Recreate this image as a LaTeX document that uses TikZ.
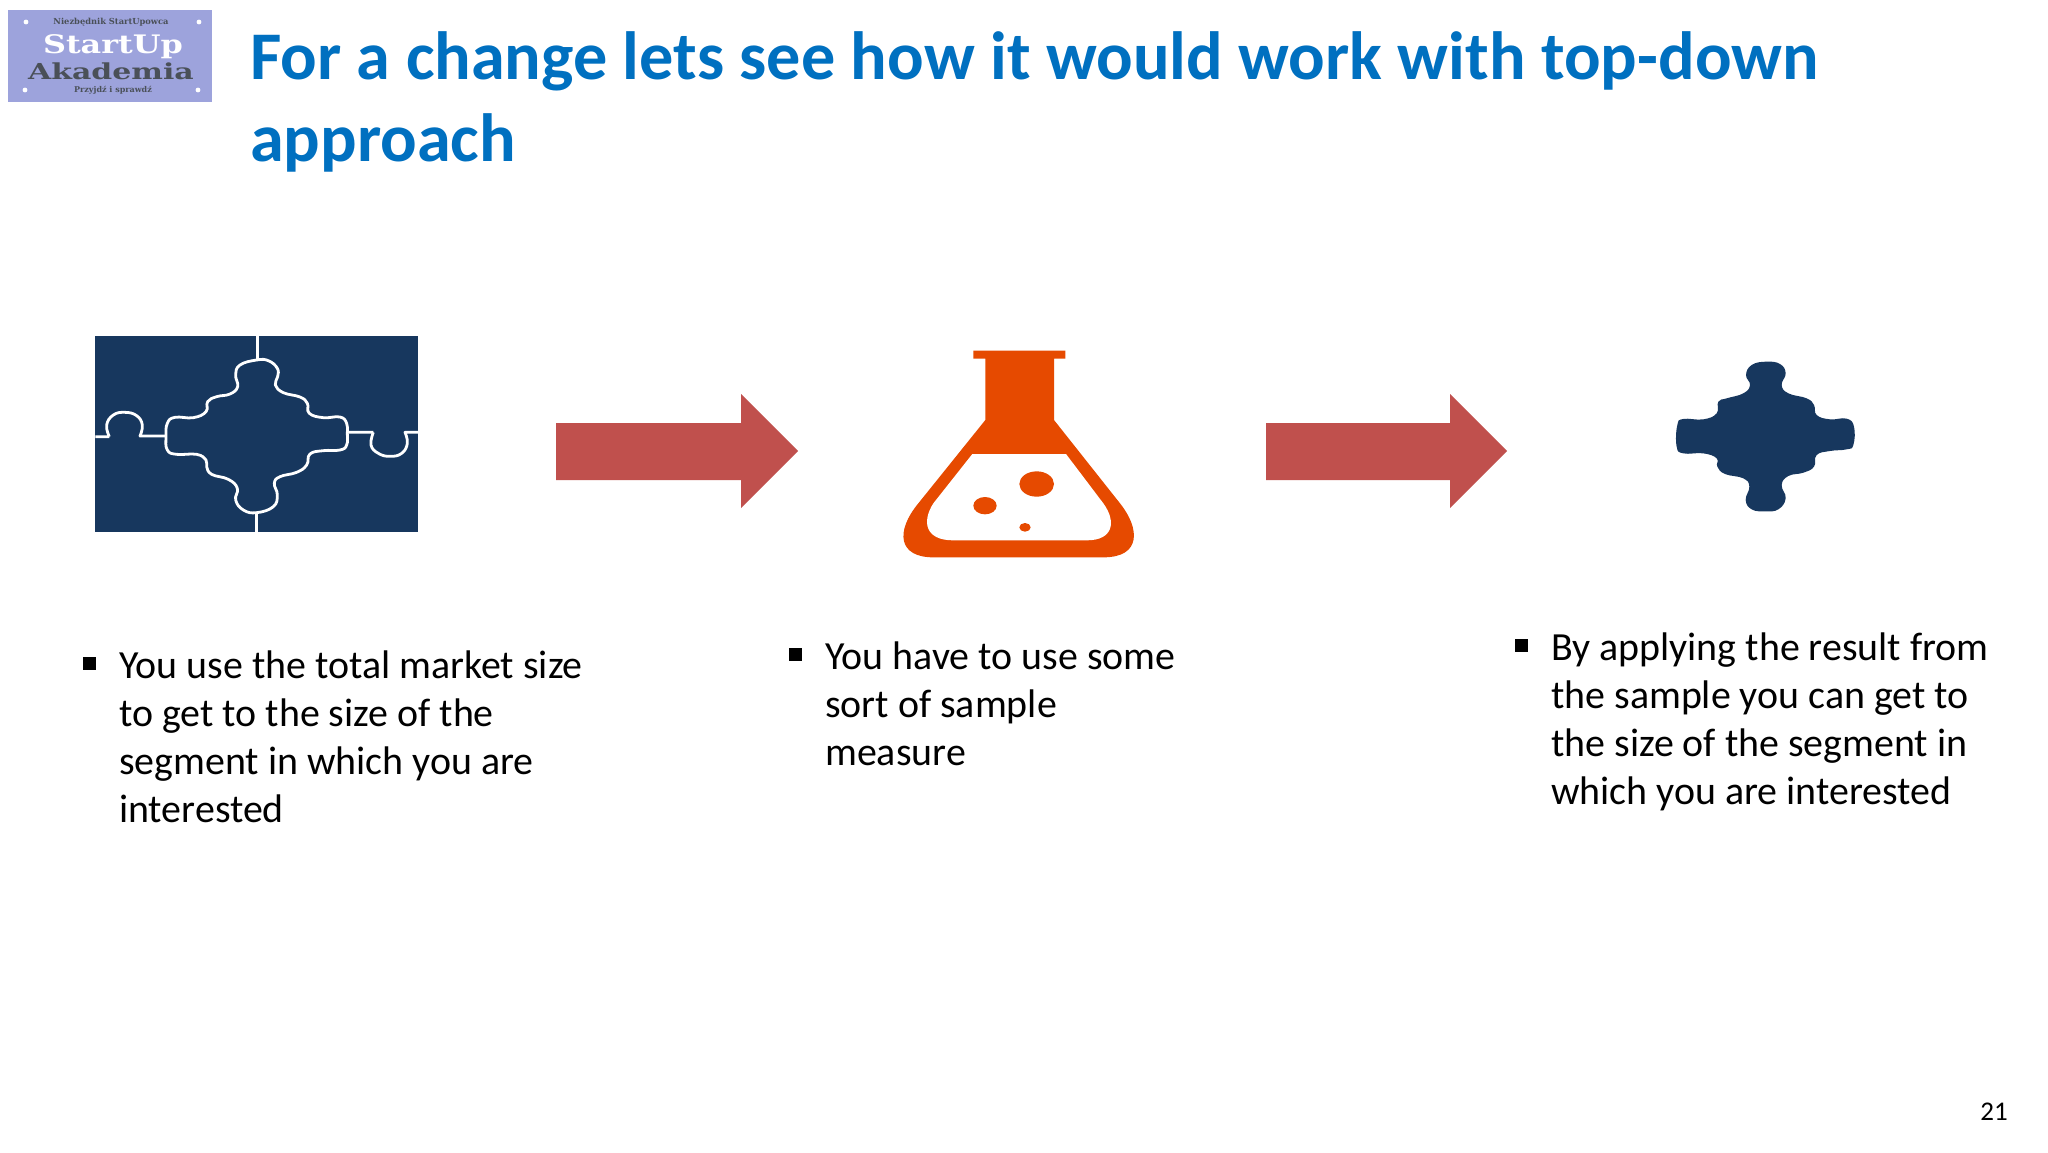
\documentclass[tikz,border=0pt]{standalone}
\usepackage{fontspec}
\setmainfont{Carlito}
\newfontfamily\logofont{DejaVu Serif}
\definecolor{titleblue}{HTML}{0070C0}
\definecolor{navy}{HTML}{17375E}
\definecolor{flaskorange}{HTML}{E64A00}
\definecolor{arrowred}{HTML}{C0504D}
\definecolor{logoblue}{HTML}{9DA3DC}
\definecolor{logodark}{HTML}{4A5058}
\tikzset{
  titletext/.style={anchor=north west,inner sep=0pt,align=left,text=titleblue,font=\fontsize{68.2}{82}\selectfont\bfseries},
  bodytext/.style={anchor=north west,inner sep=0pt,align=left,text=black,font=\fontsize{39.9}{48}\selectfont},
  bulletmark/.style={fill=black,draw=none,minimum size=13pt,inner sep=0pt},
  flowarrow/.style={fill=arrowred,draw=none},
  seam/.style={draw=white,line width=2.8pt,line join=round},
  pixelzoom/.style={x=0.33333pt,y=-0.33333pt},
  logoline/.style={inner sep=0pt,transform shape}
}
\begin{document}
\begin{tikzpicture}[x=1pt,y=-1pt]
\useasboundingbox[fill=white] (0,0) rectangle (2048,1152);
% logo
\fill[logoblue] (8,10) rectangle (212,102);
\node[inner sep=0pt,text=logodark,font=\logofont\fontsize{8.3}{9}\selectfont\bfseries] (logotop) at (111,22) {Niezbędnik StartUpowca};
\begin{scope}[shift={(113,47)},xscale=1.25]
\node[logoline,text=white,font=\logofont\fontsize{25.5}{26}\selectfont\bfseries] (logoa) at (0,0) {StartUp};
\end{scope}
\begin{scope}[shift={(111,71)},xscale=1.36]
\node[logoline,text=logodark,font=\logofont\fontsize{22}{23}\selectfont\bfseries] (logob) at (0,0) {Akademia};
\end{scope}
\node[inner sep=0pt,text=logodark,font=\logofont\fontsize{8}{9}\selectfont\bfseries] (logoc) at (113,90) {Przyjdź i sprawdź};
\foreach \p in {(26,22),(199,22),(25,90),(198,90)} \fill[white] \p circle (2.4);
% title
\node[titletext] (title) at (250,31) {For a change lets see how it would work with top-down\\approach};
% puzzle
\fill[navy] (95,336) rectangle (418,532);
\begin{scope}[shift={(80,320)},pixelzoom]
\draw[seam] plot[smooth cycle,tension=0.75] coordinates {(530,120)(565,122)(592,145)(593,170)(586,195)(610,218)(660,231)(682,250)(688,280)(730,293)(780,291)(800,310)(802,340)(800,375)(780,390)(730,392)(690,402)(680,435)(650,457)(600,470)(583,490)(592,525)(580,560)(530,578)(490,570)(467,540)(472,505)(445,478)(395,463)(380,440)(378,420)(350,403)(290,403)(262,390)(258,350)(262,310)(285,292)(340,293)(378,275)(383,245)(410,230)(450,222)(473,200)(467,165)(480,135)};
\draw[seam] (46,350) -- (88,350) plot[smooth,tension=0.75] coordinates {(88,350)(80,315)(100,285)(135,277)(170,287)(187,315)(180,348)} -- (258,348);
\draw[seam] (802,337) -- (880,337) plot[smooth,tension=0.75] coordinates {(880,337)(873,375)(895,400)(930,409)(965,400)(982,370)(975,337)} -- (1014,337);
\draw[seam] (532,48) -- (532,118);
\draw[seam] (530,578) -- (530,636);
\end{scope}
% arrows
\fill[flowarrow] (556,423) -- (741,423) -- (741,394) -- (798,451) -- (741,508) -- (741,480) -- (556,480) -- cycle;
\fill[flowarrow] (1266,423) -- (1450,423) -- (1450,394) -- (1507,451) -- (1450,508) -- (1450,480) -- (1266,480) -- cycle;
% flask
\begin{scope}[shift={(890,340)},pixelzoom]
\fill[flaskorange] (250,32) -- (526,32) -- (526,56) -- (492,56) -- (492,240) -- (690,490) .. controls (750,565) and (755,652) .. (640,652) -- (130,652) .. controls (25,652) and (15,575) .. (85,490) -- (286,240) -- (286,56) -- (250,56) -- cycle;
\fill[white] (247,342) -- (528,342) -- (640,490) .. controls (680,545) and (670,601) .. (590,601) -- (190,601) .. controls (105,601) and (95,545) .. (130,490) -- cycle;
\fill[flaskorange] (440,432) ellipse [x radius=52,y radius=38];
\fill[flaskorange] (285,497) ellipse [x radius=35,y radius=26];
\fill[flaskorange] (405,562) ellipse [x radius=17,y radius=13];
\end{scope}
% piece
\begin{scope}[shift={(1660,350)},pixelzoom]
\fill[navy] plot[smooth cycle,tension=0.75] coordinates {(318,35)(360,42)(377,70)(365,105)(385,130)(440,145)(462,165)(470,195)(510,208)(560,206)(582,230)(580,285)(560,298)(510,303)(470,315)(462,350)(430,368)(385,378)(365,405)(377,445)(355,478)(315,484)(275,478)(257,450)(268,410)(250,385)(195,372)(172,350)(170,325)(130,310)(70,310)(50,290)(52,225)(70,207)(130,208)(170,190)(175,155)(200,145)(250,130)(270,105)(258,75)(275,45)};
\end{scope}
% texts
\node[bulletmark] (b1) at (89,663) {};
\node[bodytext] (t1) at (119,651) {You use the total market size\\to get to the size of the\\segment in which you are\\interested};
\node[bulletmark] (b2) at (795,654) {};
\node[bodytext] (t2) at (825,641.5) {You have to use some\\sort of sample\\measure};
\node[bulletmark] (b3) at (1521,645) {};
\node[bodytext] (t3) at (1551,632.5) {By applying the result from\\the sample you can get to\\the size of the segment in\\which you are interested};
\node[inner sep=0pt,font=\fontsize{27}{30}\selectfont] (page) at (1994,1112) {21};
\end{tikzpicture}
\end{document}
